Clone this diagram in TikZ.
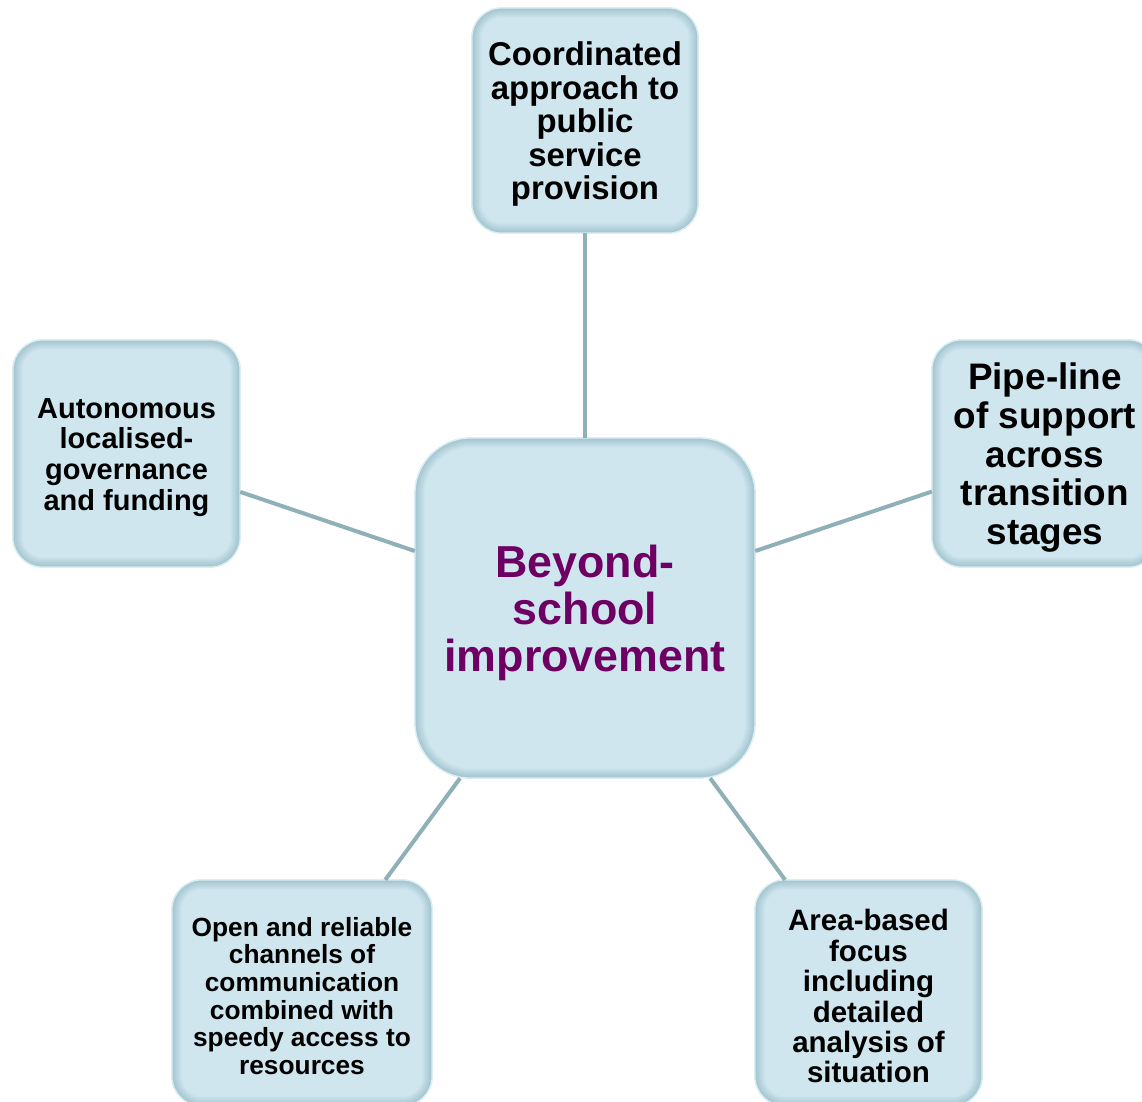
\documentclass[tikz,border=0pt]{standalone}
\usepackage{fontspec}
\setmainfont{Liberation Sans}
\usetikzlibrary{backgrounds}
\pgfdeclarelayer{bottom}
\pgfsetlayers{bottom,background,main}
\definecolor{boxfill}{RGB}{207,230,239}
\definecolor{boxedge}{RGB}{163,196,206}
\definecolor{boxline}{RGB}{218,238,244}
\definecolor{connc}{RGB}{143,176,182}
\definecolor{purp}{RGB}{110,0,100}
\tikzset{
  boxtext/.style={rectangle, inner sep=0pt, align=center, text=black},
  connector/.style={draw=connc, line width=4pt},
}
\newcommand{\bevbox}[9][]{%
  \node[boxtext, minimum width=#5pt, minimum height=#6pt, font=#8\bfseries, #1] (#2) at (#3,#4) {\rule{0pt}{0.95em}#9};
  \begin{pgfonlayer}{background}
    \foreach \i in {0,...,10} {
      \pgfmathsetmacro\rr{#7-\i}
      \pgfmathsetmacro\pc{min(100,\i*10)}
      \fill[boxfill!\pc!boxedge, rounded corners=\rr pt]
        ([shift={(\i pt,\i pt)}]#2.south west) rectangle ([shift={(-\i pt,-\i pt)}]#2.north east);
    }
    \draw[boxline, line width=1.5pt, rounded corners=#7pt] (#2.south west) rectangle (#2.north east);
  \end{pgfonlayer}
}
\begin{document}
\begin{tikzpicture}[x=1pt, y=-1pt]
  \useasboundingbox (0,0) rectangle (1142,1101);
  \begin{pgfonlayer}{bottom}
    \fill[white] (0,0) rectangle (1142,1101);
  \end{pgfonlayer}
  \clip (0,0) rectangle (1142,1101);
  \bevbox{T}{585}{120.5}{226}{225}{30}{\fontsize{32.9}{33.5}\selectfont}{Coordinated\\approach to\\public\\service\\provision}
  \bevbox{L}{126.5}{453.5}{227}{227}{30}{\fontsize{29}{30.7}\selectfont}{Autonomous\\localised-\\governance\\and funding}
  \bevbox{R}{1045}{453.5}{226}{227}{30}{\fontsize{36.9}{38.7}\selectfont}{Pipe-line\\of support\\across\\transition\\stages}
  \bevbox[text=purp]{C}{585}{608}{340}{340}{56}{\fontsize{44.8}{47}\selectfont}{Beyond-\\school\\improvement}
  \bevbox{BL}{302}{993}{260}{226}{30}{\fontsize{26.3}{27.6}\selectfont}{Open and reliable\\channels of\\communication\\combined with\\speedy access to\\resources}
  \bevbox{BR}{868.5}{993}{227}{226}{30}{\fontsize{29.5}{30.4}\selectfont}{Area-based\\focus\\including\\detailed\\analysis of\\situation}
  \draw[connector] (T) -- (C);
  \draw[connector] (L) -- (C);
  \draw[connector] (R) -- (C);
  \draw[connector] (BL) -- (C);
  \draw[connector] (BR) -- (C);
\end{tikzpicture}
\end{document}
